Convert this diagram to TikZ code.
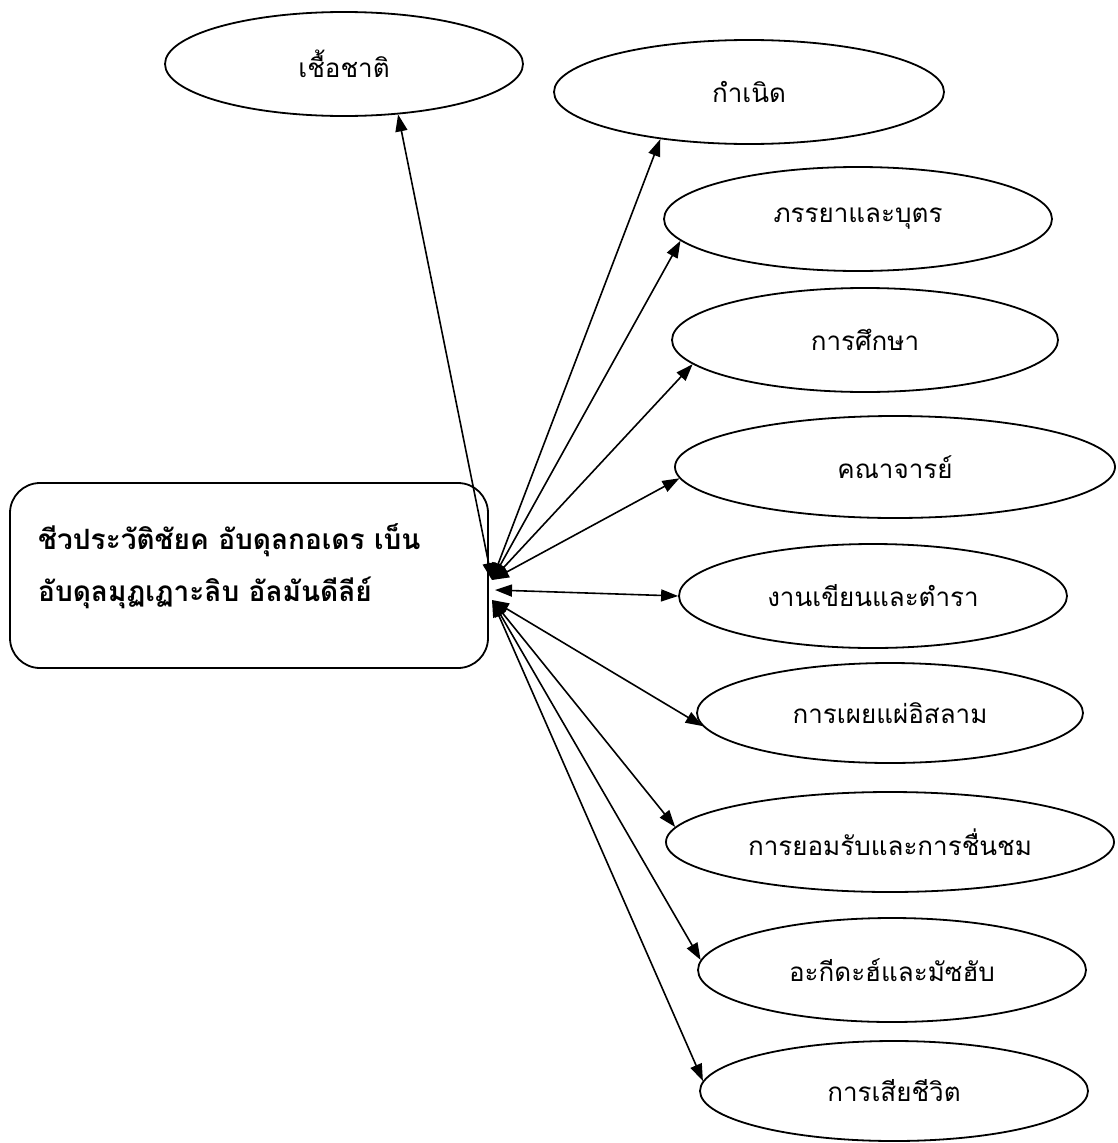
\documentclass[tikz,border=0pt]{standalone}
\usepackage{fontspec}
\newfontfamily\thaifont[Script=Thai]{Loma}
\usetikzlibrary{shapes.geometric,arrows.meta}
\begin{document}
\begin{tikzpicture}[x=1pt,y=-1pt,
  bub/.style={draw, line width=1.8pt, ellipse, inner sep=0pt, font=\thaifont\fontsize{26}{30}\selectfont},
  link/.style={line width=1.6pt, {Triangle[length=17pt,width=12pt]}-{Triangle[length=17pt,width=12pt]}},
  mainbox/.style={draw, line width=1.8pt, rounded corners=30pt, inner sep=0pt},
  maintextstyle/.style={font=\thaifont\bfseries\fontsize{28}{52}\selectfont, align=left, inner sep=0pt}
]
\useasboundingbox[fill=white] (0,0) rectangle (1117,1143);
\node[bub, minimum width=358pt, minimum height=104pt] (e1) at (344,64) {เชื้อชาติ};
\node[bub, minimum width=390pt, minimum height=104pt] (e2) at (749,92) {กำเนิด};
\node[bub, minimum width=388pt, minimum height=104pt] (e3) at (858,219) {ภรรยาและบุตร};
\node[bub, minimum width=386pt, minimum height=104pt] (e4) at (865,340) {การศึกษา};
\node[bub, minimum width=440pt, minimum height=102pt] (e5) at (895,467) {คณาจารย์};
\node[bub, minimum width=388pt, minimum height=104pt] (e6) at (873,596) {งานเขียนและตำรา};
\node[bub, minimum width=386pt, minimum height=100pt] (e7) at (890,713) {การเผยแผ่อิสลาม};
\node[bub, minimum width=448pt, minimum height=100pt] (e8) at (890,842) {การยอมรับและการชื่นชม};
\node[bub, minimum width=388pt, minimum height=104pt] (e9) at (892,970) {อะกีดะฮ์และมัซฮับ};
\node[bub, minimum width=388pt, minimum height=100pt] (e10) at (894,1091) {การเสียชีวิต};
\node[mainbox, minimum width=478pt, minimum height=185pt] (main) at (249,575.5) {};
\node[maintextstyle, anchor=west] (maintext) at (38,566) {ชีวประวัติชัยค อับดุลกอเดร เบ็น\\อับดุลมุฏเฏาะลิบ อัลมันดีลีย์};
\coordinate (hA) at (492,580);
\coordinate (hB) at (495,590);
\coordinate (hC) at (492,600);
\draw[link] (hA) -- (e1.-43);
\draw[link] (hA) -- (e2.208);
\draw[link] (hA) -- (e3.187);
\draw[link] (hA) -- (e4.188);
\draw[link] (hA) -- (e5.183);
\draw[link] (hB) -- (e6.180);
\draw[link] (hC) -- (e7.184);
\draw[link] (hC) -- (e8.176);
\draw[link] (hC) -- (e9.177);
\draw[link] (hC) -- (e10.177);
\end{tikzpicture}
\end{document}
